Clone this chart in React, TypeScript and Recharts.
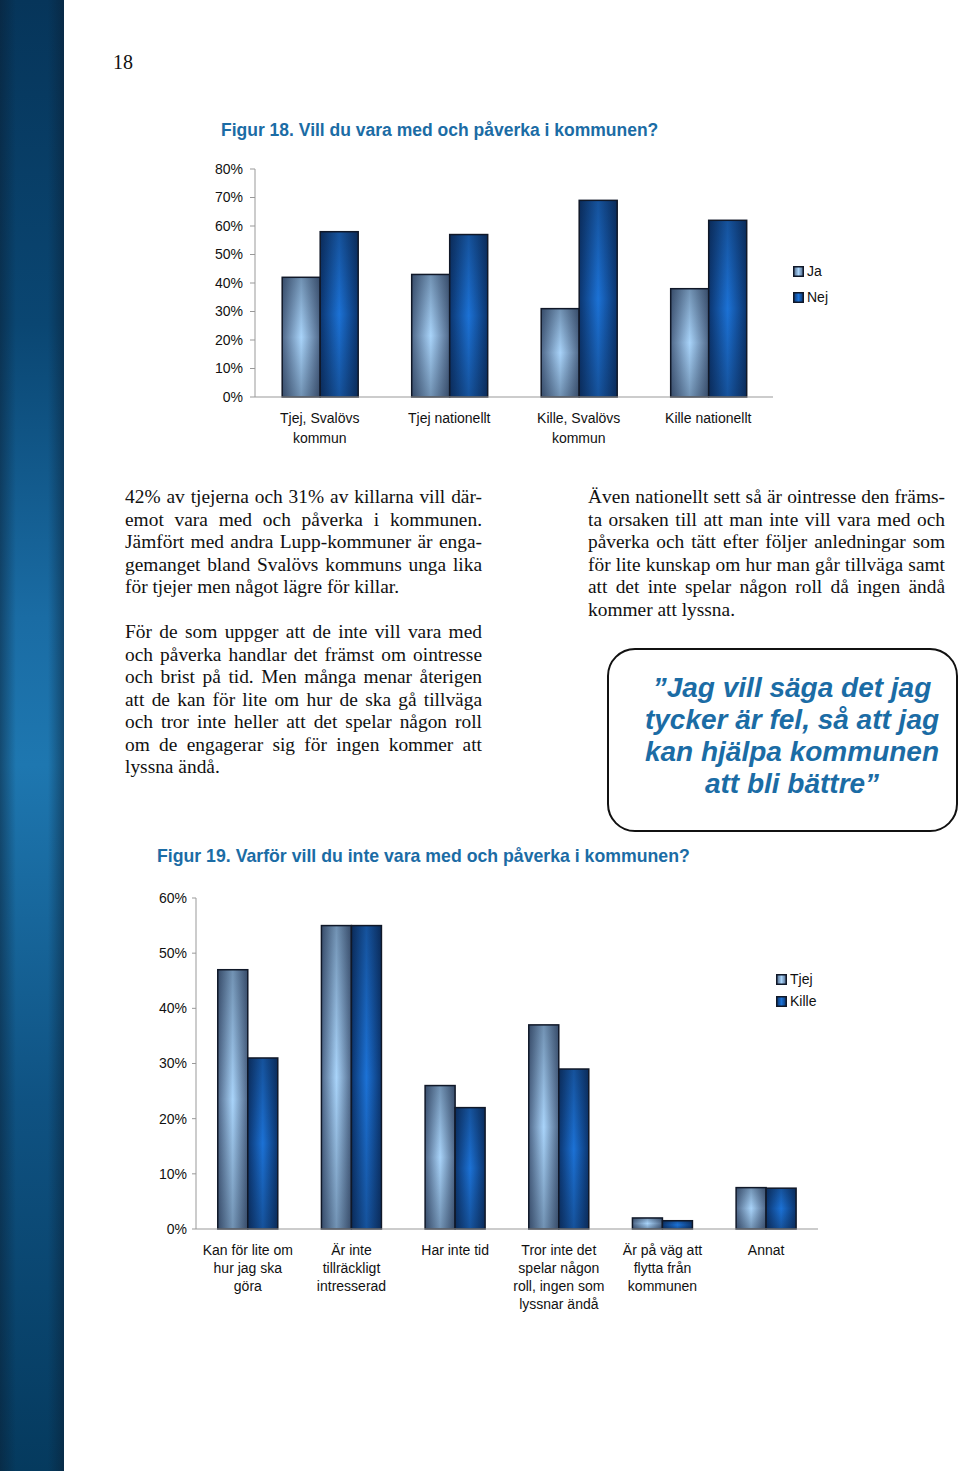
import { BarChart, Bar, XAxis, YAxis, Legend } from 'recharts';

// Figur 18
const fig18Categories = ['Tjej, Svalövs kommun', 'Tjej nationellt', 'Kille, Svalövs kommun', 'Kille nationellt'];
const fig18TickLines = [['Tjej, Svalövs', 'kommun'], ['Tjej nationellt'], ['Kille, Svalövs', 'kommun'], ['Kille nationellt']];
const fig18Ja = [42, 43, 31, 38];
const fig18Nej = [58, 57, 69, 62];
const fig18Ticks = [0, 10, 20, 30, 40, 50, 60, 70, 80];

// Figur 19
const fig19Categories = [
  'Kan för lite om hur jag ska göra',
  'Är inte tillräckligt intresserad',
  'Har inte tid',
  'Tror inte det spelar någon roll, ingen som lyssnar ändå',
  'Är på väg att flytta från kommunen',
  'Annat',
];
const fig19TickLines = [
  ['Kan för lite om', 'hur jag ska', 'göra'],
  ['Är inte', 'tillräckligt', 'intresserad'],
  ['Har inte tid'],
  ['Tror inte det', 'spelar någon', 'roll, ingen som', 'lyssnar ändå'],
  ['Är på väg att', 'flytta från', 'kommunen'],
  ['Annat'],
];
const fig19Tjej = [47, 55, 26, 37, 2, 7.5];
const fig19Kille = [31, 55, 22, 29, 1.5, 7.4];
const fig19Ticks = [0, 10, 20, 30, 40, 50, 60];

const fig18Data = fig18Categories.map((name, i) => ({ name, Ja: fig18Ja[i], Nej: fig18Nej[i] }));
const fig19Data = fig19Categories.map((name, i) => ({ name, Tjej: fig19Tjej[i], Kille: fig19Kille[i] }));

const BLUE = '#1b6ca5';
const FONT = '"Liberation Sans", Arial, sans-serif';
const SERIF = '"Liberation Serif", "Times New Roman", serif';

function Gradients({ p }: { p: string }) {
  return (
    <defs>
      <linearGradient id={`${p}-light`} x1="0" y1="0" x2="1" y2="0">
        <stop offset="0%" stopColor="#4f6788" />
        <stop offset="50%" stopColor="#a9d4fa" />
        <stop offset="100%" stopColor="#4f6788" />
      </linearGradient>
      <linearGradient id={`${p}-dark`} x1="0" y1="0" x2="1" y2="0">
        <stop offset="0%" stopColor="#0b356f" />
        <stop offset="50%" stopColor="#1c72d6" />
        <stop offset="100%" stopColor="#0b356f" />
      </linearGradient>
      <linearGradient id={`${p}-shade`} x1="0" y1="0" x2="0" y2="1">
        <stop offset="0%" stopColor="#0a1830" stopOpacity={0.35} />
        <stop offset="50%" stopColor="#0a1830" stopOpacity={0} />
        <stop offset="100%" stopColor="#0a1830" stopOpacity={0.35} />
      </linearGradient>
    </defs>
  );
}

const gradBar = (gradId: string, shadeId: string) => (props: any) => {
  const { x, y, width, height } = props;
  if (!height || height <= 0) return <g />;
  return (
    <g>
      <rect x={x} y={y} width={width} height={height} fill={`url(#${gradId})`} />
      <rect x={x} y={y} width={width} height={height} fill={`url(#${shadeId})`} />
      <rect x={x} y={y} width={width} height={height} fill="none" stroke="#101828" strokeWidth={1.5} />
    </g>
  );
};

const wrapTick = (lines: string[][], firstDy: number, lineH: number) => (props: any) => {
  const { x, y, payload } = props;
  const idx = payload && typeof payload.index === 'number' ? payload.index : props.index;
  const ls = lines[idx] || [String(payload.value)];
  return (
    <text x={x} y={y} textAnchor="middle" fontSize={14} fontFamily={FONT} fill="#111">
      {ls.map((l, i) => (
        <tspan key={i} x={x} dy={i === 0 ? firstDy : lineH}>
          {l}
        </tspan>
      ))}
    </text>
  );
};

const legendContent = (items: { label: string; grad: string }[], rowH: number) => () => (
  <div style={{ fontFamily: FONT, fontSize: 14, color: '#111' }}>
    {items.map((it) => (
      <div key={it.label} style={{ height: rowH, display: 'flex', alignItems: 'center' }}>
        <svg width={11} height={11} style={{ marginRight: 3 }}>
          <rect x={0.75} y={0.75} width={9.5} height={9.5} fill={`url(#${it.grad})`} stroke="#101828" strokeWidth={1.5} />
        </svg>
        {it.label}
      </div>
    ))}
  </div>
);

function Figur18() {
  return (
    <div style={{ position: 'absolute', left: 200, top: 160 }}>
      <BarChart width={640} height={300} data={fig18Data} margin={{ top: 9, right: 67, bottom: 0, left: 0 }} barCategoryGap="21%" barGap={0}>
        <Gradients p="f18" />
        <XAxis dataKey="name" axisLine={{ stroke: '#999' }} tickLine={false} tickSize={0} height={63} interval={0}
          tick={wrapTick(fig18TickLines, 24, 20)} />
        <YAxis domain={[0, 80]} ticks={fig18Ticks} tickFormatter={(v) => `${v}%`} width={55} tickSize={5} tickMargin={7}
          axisLine={{ stroke: '#999' }} tickLine={{ stroke: '#999' }}
          tick={{ fontSize: 14, fontFamily: FONT, fill: '#111' }} />
        <Legend layout="vertical" align="center" verticalAlign="middle"
          wrapperStyle={{ left: 593, top: 98, width: 60 }}
          content={legendContent([{ label: 'Ja', grad: 'f18-light' }, { label: 'Nej', grad: 'f18-dark' }], 26)} />
        <Bar dataKey="Ja" isAnimationActive={false} fill="#8fb8e0" shape={gradBar('f18-light', 'f18-shade')} />
        <Bar dataKey="Nej" isAnimationActive={false} fill="#1b5fb0" shape={gradBar('f18-dark', 'f18-shade')} />
      </BarChart>
    </div>
  );
}

function Figur19() {
  return (
    <div style={{ position: 'absolute', left: 140, top: 888 }}>
      <BarChart width={720} height={436} data={fig19Data} margin={{ top: 10, right: 42, bottom: 0, left: 0 }} barCategoryGap="21%" barGap={0}>
        <Gradients p="f19" />
        <XAxis dataKey="name" axisLine={{ stroke: '#999' }} tickLine={false} tickSize={0} height={95} interval={0}
          tick={wrapTick(fig19TickLines, 24, 18)} />
        <YAxis domain={[0, 60]} ticks={fig19Ticks} tickFormatter={(v) => `${v}%`} width={56} tickSize={4} tickMargin={5}
          axisLine={{ stroke: '#999' }} tickLine={{ stroke: '#999' }}
          tick={{ fontSize: 14, fontFamily: FONT, fill: '#111' }} />
        <Legend layout="vertical" align="center" verticalAlign="middle"
          wrapperStyle={{ left: 636, top: 80, width: 70 }}
          content={legendContent([{ label: 'Tjej', grad: 'f19-light' }, { label: 'Kille', grad: 'f19-dark' }], 22)} />
        <Bar dataKey="Tjej" isAnimationActive={false} fill="#8fb8e0" shape={gradBar('f19-light', 'f19-shade')} />
        <Bar dataKey="Kille" isAnimationActive={false} fill="#1b5fb0" shape={gradBar('f19-dark', 'f19-shade')} />
      </BarChart>
    </div>
  );
}

const leftPara1 = [
  '42% av tjejerna och 31% av killarna vill där-',
  'emot vara med och påverka i kommunen.',
  'Jämfört med andra Lupp-kommuner är enga-',
  'gemanget bland Svalövs kommuns unga lika',
  'för tjejer men något lägre för killar.',
];
const leftPara2 = [
  'För de som uppger att de inte vill vara med',
  'och påverka handlar det främst om ointresse',
  'och brist på tid. Men många menar återigen',
  'att de kan för lite om hur de ska gå tillväga',
  'och tror inte heller att det spelar någon roll',
  'om de engagerar sig för ingen kommer att',
  'lyssna ändå.',
];
const rightPara = [
  'Även nationellt sett så är ointresse den främs-',
  'ta orsaken till att man inte vill vara med och',
  'påverka och tätt efter följer anledningar som',
  'för lite kunskap om hur man går tillväga samt',
  'att det inte spelar någon roll då ingen ändå',
  'kommer att lyssna.',
];

function Para({ lines, left, top, width }: { lines: string[]; left: number; top: number; width: number }) {
  return (
    <div style={{ position: 'absolute', left, top, width, fontFamily: SERIF, fontSize: 19.4, lineHeight: '22.5px', color: '#111' }}>
      {lines.map((l, i) => (
        <div key={i} style={{ textAlign: i === lines.length - 1 ? 'left' : 'justify', textAlignLast: i === lines.length - 1 ? 'left' : 'justify', whiteSpace: 'nowrap' }}>
          {l}
        </div>
      ))}
    </div>
  );
}

export default function App() {
  return (
    <div style={{ position: 'absolute', left: 0, top: 0, width: 960, height: 1471, background: '#fff', overflow: 'hidden' }}>
      <div style={{ position: 'absolute', left: 0, top: 0, width: 64, height: 1471,
        background: 'linear-gradient(to bottom, #06355a 0%, #0a4672 22%, #1a6ca4 42%, #1e77b0 52%, #0f5282 75%, #053a5e 100%)' }} />
      <div style={{ position: 'absolute', left: 0, top: 0, width: 64, height: 1471,
        background: 'linear-gradient(to right, rgba(10,30,50,0.5) 0%, rgba(10,30,50,0) 25%, rgba(10,30,50,0) 75%, rgba(10,30,50,0.5) 100%)' }} />
      <div style={{ position: 'absolute', left: 113, top: 51, fontFamily: SERIF, fontSize: 20, color: '#111' }}>18</div>
      <div style={{ position: 'absolute', left: 221, top: 120, fontFamily: FONT, fontSize: 17.5, fontWeight: 'bold', color: BLUE }}>
        Figur 18. Vill du vara med och påverka i kommunen?
      </div>
      <Figur18 />
      <Para lines={leftPara1} left={125} top={486} width={357} />
      <Para lines={leftPara2} left={125} top={621} width={357} />
      <Para lines={rightPara} left={588} top={486} width={357} />
      <div style={{ position: 'absolute', left: 607, top: 648, width: 351, height: 184, border: '2px solid #111', borderRadius: 28,
        fontFamily: FONT, fontSize: 28, fontWeight: 'bold', fontStyle: 'italic', color: BLUE, textAlign: 'center', lineHeight: '32px',
        paddingTop: 22, paddingLeft: 19, boxSizing: 'border-box' }}>
        <div>{'\u201DJag vill säga det jag'}</div>
        <div>tycker är fel, så att jag</div>
        <div>kan hjälpa kommunen</div>
        <div>{'att bli bättre\u201D'}</div>
      </div>
      <div style={{ position: 'absolute', left: 157, top: 846, fontFamily: FONT, fontSize: 17.7, fontWeight: 'bold', color: BLUE }}>
        Figur 19. Varför vill du inte vara med och påverka i kommunen?
      </div>
      <Figur19 />
    </div>
  );
}
